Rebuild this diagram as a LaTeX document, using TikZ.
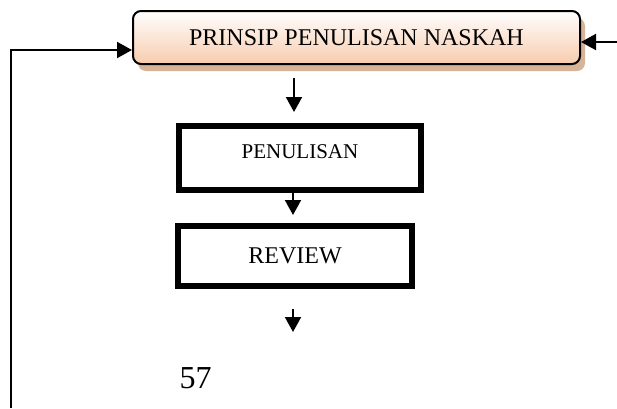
\documentclass[tikz,border=0pt]{standalone}
\usepackage{fontspec}
\setmainfont{Liberation Serif}
\usetikzlibrary{arrows.meta, shadows}
\definecolor{peach}{RGB}{248,203,173}
\definecolor{shadowtan}{RGB}{205,160,125}
\begin{document}
\begin{tikzpicture}[x=0.5pt,y=-0.5pt,
  procbox/.style={draw,line width=3pt,inner sep=0pt},
  flow/.style={line width=1pt,-{Triangle[length=7.5pt,width=8pt]}}]
\useasboundingbox (0,0) rectangle (617,408);
% Judul
\node[draw,line width=1pt,rounded corners=4pt,top color=white,bottom color=peach,
  drop shadow={shadow xshift=2.5pt,shadow yshift=-3.5pt,fill=shadowtan,opacity=0.8},
  minimum width=223.5pt,minimum height=26.5pt,inner sep=0pt,
  font=\fontsize{12}{14}\selectfont] (judul) at (356.5,37.5) {PRINSIP PENULISAN NASKAH};
% Tahapan
\node[procbox,minimum width=121pt,minimum height=32pt,text height=7pt,text depth=7pt,
  font=\fontsize{10.5}{12}\selectfont] (pen) at (300,158) {PENULISAN};
\node[procbox,minimum width=117pt,minimum height=30pt,
  font=\fontsize{12}{14}\selectfont] (rev) at (295,256) {REVIEW};
\node[font=\fontsize{16}{19}\selectfont] (hal) at (195.5,378) {57};
% Panah
\coordinate (sumbu) at (294,0);
\coordinate (akhir) at (293,332);
\coordinate (kiri) at (11,408);
\coordinate (kanan) at (617,42);
\draw[flow,shorten <=6.5pt,shorten >=5.5pt] (judul.south -| sumbu) -- (pen.north -| sumbu);
\draw[flow,shorten >=4pt] (pen.south -| akhir) -- (rev.north -| akhir);
\draw[flow,shorten <=10pt] (rev.south -| akhir) -- (akhir);
\draw[flow] (kiri) |- ([yshift=-6.25pt]judul.west);
\draw[flow] (kanan) -- (judul.east |- kanan);
\end{tikzpicture}
\end{document}
